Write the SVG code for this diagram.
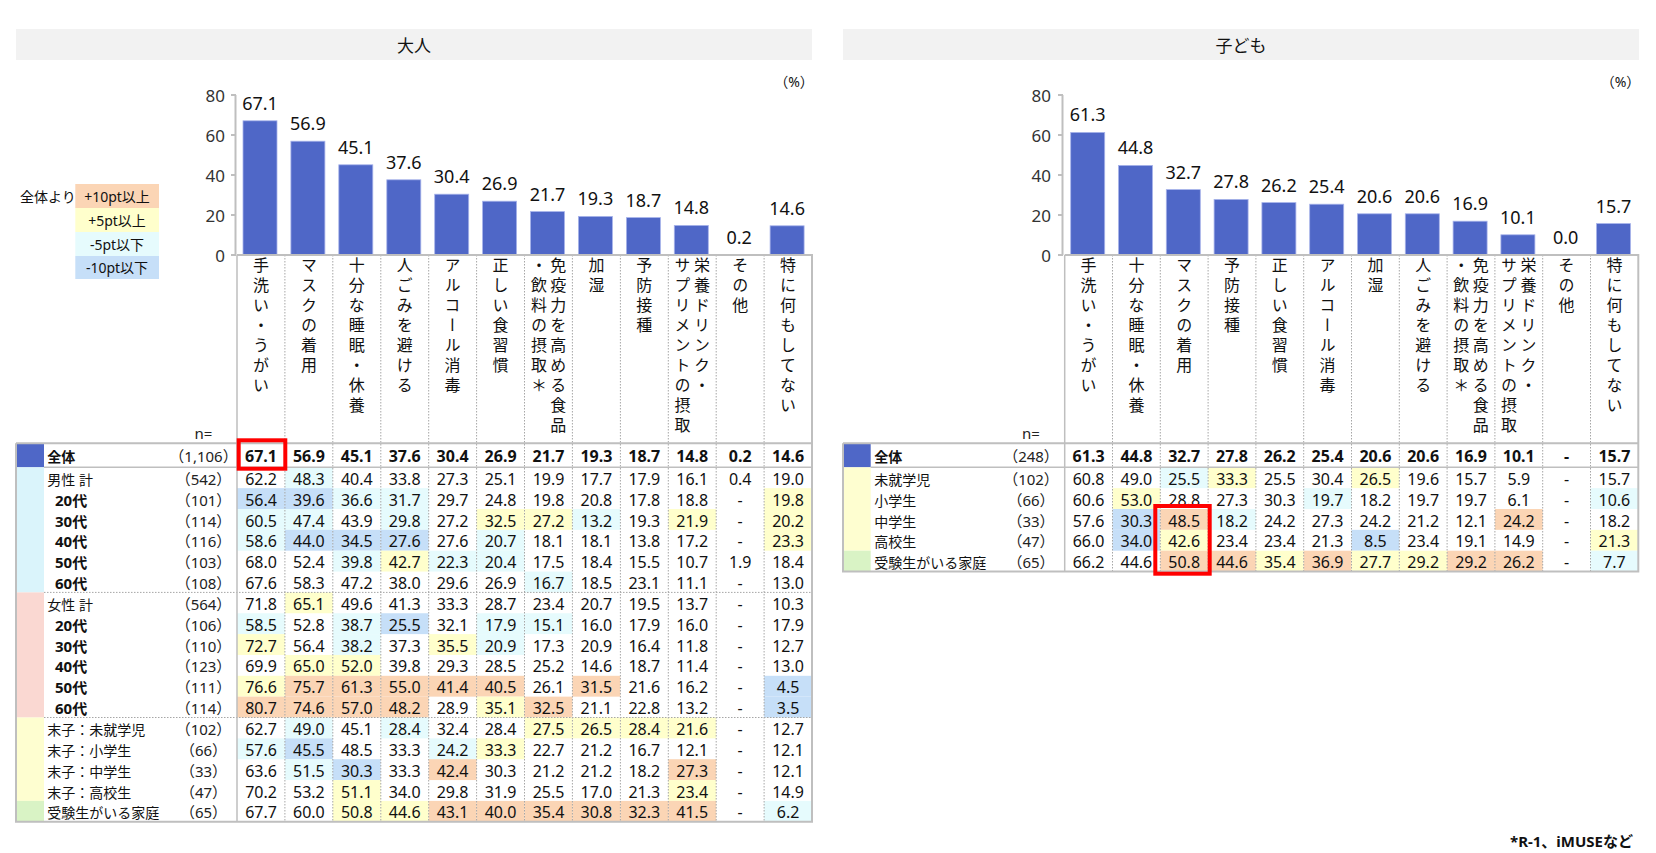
<svg xmlns="http://www.w3.org/2000/svg" width="1656" height="853" viewBox="0 0 1656 853">
<style>
text{font-family:"Noto Sans","Noto Sans CJK JP",sans-serif;fill:#111}
.ttl{font-size:17px;text-anchor:middle}
.v{font-size:16px;text-anchor:middle}
.b{font-weight:bold}
.lb{font-size:14px}
.ag{font-size:15px;font-weight:bold}
.n{font-size:15px;text-anchor:middle;fill:#222}
.bl{font-size:18px;text-anchor:middle}
.tk{font-size:17px;text-anchor:end;fill:#333}
.cat{font-family:"Noto Sans CJK JP",sans-serif;font-size:16px;writing-mode:vertical-rl;letter-spacing:4px}
.pc{font-size:14px;text-anchor:middle}
.O{fill:#fbd5b5}.Y{fill:#ffffcc}.C{fill:#e6fbfd}.B{fill:#c6dff8}
.bar{fill:#4f67c7;stroke:#a7b3ea;stroke-width:0.8}
.dot{stroke:#a6a6a6;stroke-width:1;stroke-dasharray:1.5 1.5;fill:none}
.sol{stroke:#bfbfbf;stroke-width:2;fill:none}
.sol1{stroke:#bfbfbf;stroke-width:1.5;fill:none}
.red{fill:none;stroke:#ff0000;stroke-width:4}
</style>
<rect width="1656" height="853" fill="#fff"/>

<g id="title-adult">
<rect x="16" y="29" width="796" height="31" fill="#f2f2f2"/>
<text class="ttl" x="414" y="52">大人</text>
</g>
<g id="title-child">
<rect x="843" y="29" width="796" height="31" fill="#f2f2f2"/>
<text class="ttl" x="1241" y="52">子ども</text>
</g>

<g id="legend">
<text class="lb" x="20" y="201.5">全体より</text>
<rect class="O" x="75.3" y="184" width="83.7" height="24"/>
<rect class="Y" x="75.3" y="208" width="83.7" height="24"/>
<rect class="C" x="75.3" y="232" width="83.7" height="24"/>
<rect class="B" x="75.3" y="256" width="83.7" height="23"/>
<text class="lb" x="117" y="201.5" text-anchor="middle">+10pt以上</text>
<text class="lb" x="117" y="225.5" text-anchor="middle">+5pt以上</text>
<text class="lb" x="117" y="249.5" text-anchor="middle">-5pt以下</text>
<text class="lb" x="117" y="273" text-anchor="middle">-10pt以下</text>
</g>

<g id="chart-adult">
<path class="sol" d="M235.5,95V255M231,95H236M231,135H236M231,175H236M231,215H236M231,255H236"/>
<text class="tk" x="225" y="101.5">80</text>
<text class="tk" x="225" y="141.5">60</text>
<text class="tk" x="225" y="181.5">40</text>
<text class="tk" x="225" y="221.5">20</text>
<text class="tk" x="225" y="261.5">0</text>
<text class="pc" x="794" y="86.5">（%）</text>
<rect class="bar" x="243" y="120.8" width="34" height="134.2"/>
<rect class="bar" x="290.9" y="141.2" width="34" height="113.8"/>
<rect class="bar" x="338.8" y="164.8" width="34" height="90.2"/>
<rect class="bar" x="386.8" y="179.8" width="34" height="75.2"/>
<rect class="bar" x="434.7" y="194.2" width="34" height="60.8"/>
<rect class="bar" x="482.6" y="201.2" width="34" height="53.8"/>
<rect class="bar" x="530.5" y="211.6" width="34" height="43.4"/>
<rect class="bar" x="578.4" y="216.4" width="34" height="38.6"/>
<rect class="bar" x="626.4" y="217.6" width="34" height="37.4"/>
<rect class="bar" x="674.3" y="225.4" width="34" height="29.6"/>
<rect class="bar" x="722.2" y="254.4" width="34" height="0.6"/>
<rect class="bar" x="770.1" y="225.8" width="34" height="29.2"/>
<text class="bl" y="0"><tspan x="260" y="109.8">67.1</tspan><tspan x="307.9" y="130.2">56.9</tspan><tspan x="355.8" y="153.8">45.1</tspan><tspan x="403.8" y="168.8">37.6</tspan><tspan x="451.7" y="183.2">30.4</tspan><tspan x="499.6" y="190.2">26.9</tspan><tspan x="547.5" y="200.6">21.7</tspan><tspan x="595.4" y="205.4">19.3</tspan><tspan x="643.4" y="206.6">18.7</tspan><tspan x="691.3" y="214.4">14.8</tspan><tspan x="739.2" y="243.6">0.2</tspan><tspan x="787.1" y="214.8">14.6</tspan></text>
<text class="cat" x="261" y="257">手洗い・うがい</text>
<text class="cat" x="308.9" y="257">マスクの着用</text>
<text class="cat" x="356.8" y="257">十分な睡眠・休養</text>
<text class="cat" x="404.7" y="257">人ごみを避ける</text>
<text class="cat" x="452.6" y="257">アルコール消毒</text>
<text class="cat" x="500.6" y="257">正しい食習慣</text>
<text class="cat" x="558.3" y="257">免疫力を高める食品</text>
<text class="cat" x="539" y="257">・飲料の摂取＊</text>
<text class="cat" x="596.4" y="257">加湿</text>
<text class="cat" x="644.3" y="257">予防接種</text>
<text class="cat" x="702" y="257">栄養ドリンク・</text>
<text class="cat" x="682.5" y="257">サプリメントの摂取</text>
<text class="cat" x="740.2" y="257">その他</text>
<text class="cat" x="788.1" y="257">特に何もしてない</text>
</g>

<g id="table-adult">
<rect x="16" y="443.3" width="28" height="24" fill="#4f67c7"/>
<rect x="16" y="467.3" width="28" height="125.1" fill="#daf4fb"/>
<rect x="16" y="592.4" width="28" height="125.1" fill="#fad8d2"/>
<rect x="16" y="717.5" width="28" height="83.4" fill="#fefed0"/>
<rect x="16" y="800.9" width="28" height="20.85" fill="#d9f3c5"/>
<g>
<rect class="C" x="284.9" y="467.3" width="47.9" height="20.85"/>
<rect class="B" x="237" y="488.15" width="47.9" height="20.85"/><rect class="B" x="284.9" y="488.15" width="47.9" height="20.85"/><rect class="C" x="332.8" y="488.15" width="47.9" height="20.85"/><rect class="C" x="380.8" y="488.15" width="47.9" height="20.85"/><rect class="Y" x="764.1" y="488.15" width="47.9" height="20.85"/>
<rect class="C" x="237" y="509" width="47.9" height="20.85"/><rect class="C" x="284.9" y="509" width="47.9" height="20.85"/><rect class="C" x="380.8" y="509" width="47.9" height="20.85"/><rect class="Y" x="476.6" y="509" width="47.9" height="20.85"/><rect class="Y" x="524.5" y="509" width="47.9" height="20.85"/><rect class="C" x="572.4" y="509" width="47.9" height="20.85"/><rect class="Y" x="668.3" y="509" width="47.9" height="20.85"/><rect class="Y" x="764.1" y="509" width="47.9" height="20.85"/>
<rect class="C" x="237" y="529.85" width="47.9" height="20.85"/><rect class="B" x="284.9" y="529.85" width="47.9" height="20.85"/><rect class="B" x="332.8" y="529.85" width="47.9" height="20.85"/><rect class="B" x="380.8" y="529.85" width="47.9" height="20.85"/><rect class="C" x="476.6" y="529.85" width="47.9" height="20.85"/><rect class="Y" x="764.1" y="529.85" width="47.9" height="20.85"/>
<rect class="C" x="332.8" y="550.7" width="47.9" height="20.85"/><rect class="Y" x="380.8" y="550.7" width="47.9" height="20.85"/><rect class="C" x="428.7" y="550.7" width="47.9" height="20.85"/><rect class="C" x="476.6" y="550.7" width="47.9" height="20.85"/>
<rect class="C" x="524.5" y="571.55" width="47.9" height="20.85"/>
<rect class="Y" x="284.9" y="592.4" width="47.9" height="20.85"/>
<rect class="C" x="237" y="613.25" width="47.9" height="20.85"/><rect class="C" x="332.8" y="613.25" width="47.9" height="20.85"/><rect class="B" x="380.8" y="613.25" width="47.9" height="20.85"/><rect class="C" x="476.6" y="613.25" width="47.9" height="20.85"/><rect class="C" x="524.5" y="613.25" width="47.9" height="20.85"/>
<rect class="Y" x="237" y="634.1" width="47.9" height="20.85"/><rect class="C" x="332.8" y="634.1" width="47.9" height="20.85"/><rect class="Y" x="428.7" y="634.1" width="47.9" height="20.85"/><rect class="C" x="476.6" y="634.1" width="47.9" height="20.85"/>
<rect class="Y" x="284.9" y="654.95" width="47.9" height="20.85"/><rect class="Y" x="332.8" y="654.95" width="47.9" height="20.85"/>
<rect class="Y" x="237" y="675.8" width="47.9" height="20.85"/><rect class="O" x="284.9" y="675.8" width="47.9" height="20.85"/><rect class="O" x="332.8" y="675.8" width="47.9" height="20.85"/><rect class="O" x="380.8" y="675.8" width="47.9" height="20.85"/><rect class="O" x="428.7" y="675.8" width="47.9" height="20.85"/><rect class="O" x="476.6" y="675.8" width="47.9" height="20.85"/><rect class="O" x="572.4" y="675.8" width="47.9" height="20.85"/><rect class="B" x="764.1" y="675.8" width="47.9" height="20.85"/>
<rect class="O" x="237" y="696.65" width="47.9" height="20.85"/><rect class="O" x="284.9" y="696.65" width="47.9" height="20.85"/><rect class="O" x="332.8" y="696.65" width="47.9" height="20.85"/><rect class="O" x="380.8" y="696.65" width="47.9" height="20.85"/><rect class="Y" x="476.6" y="696.65" width="47.9" height="20.85"/><rect class="O" x="524.5" y="696.65" width="47.9" height="20.85"/><rect class="B" x="764.1" y="696.65" width="47.9" height="20.85"/>
<rect class="C" x="284.9" y="717.5" width="47.9" height="20.85"/><rect class="C" x="380.8" y="717.5" width="47.9" height="20.85"/><rect class="Y" x="524.5" y="717.5" width="47.9" height="20.85"/><rect class="Y" x="572.4" y="717.5" width="47.9" height="20.85"/><rect class="Y" x="620.4" y="717.5" width="47.9" height="20.85"/><rect class="Y" x="668.3" y="717.5" width="47.9" height="20.85"/>
<rect class="C" x="237" y="738.35" width="47.9" height="20.85"/><rect class="B" x="284.9" y="738.35" width="47.9" height="20.85"/><rect class="C" x="428.7" y="738.35" width="47.9" height="20.85"/><rect class="Y" x="476.6" y="738.35" width="47.9" height="20.85"/>
<rect class="C" x="284.9" y="759.2" width="47.9" height="20.85"/><rect class="B" x="332.8" y="759.2" width="47.9" height="20.85"/><rect class="O" x="428.7" y="759.2" width="47.9" height="20.85"/><rect class="O" x="668.3" y="759.2" width="47.9" height="20.85"/>
<rect class="Y" x="332.8" y="780.05" width="47.9" height="20.85"/><rect class="Y" x="668.3" y="780.05" width="47.9" height="20.85"/>
<rect class="Y" x="332.8" y="800.9" width="47.9" height="20.85"/><rect class="Y" x="380.8" y="800.9" width="47.9" height="20.85"/><rect class="O" x="428.7" y="800.9" width="47.9" height="20.85"/><rect class="O" x="476.6" y="800.9" width="47.9" height="20.85"/><rect class="O" x="524.5" y="800.9" width="47.9" height="20.85"/><rect class="O" x="572.4" y="800.9" width="47.9" height="20.85"/><rect class="O" x="620.4" y="800.9" width="47.9" height="20.85"/><rect class="O" x="668.3" y="800.9" width="47.9" height="20.85"/><rect class="C" x="764.1" y="800.9" width="47.9" height="20.85"/>
</g>
<path class="dot" d="M284.9,255V821.75M332.8,255V821.75M380.8,255V821.75M428.7,255V821.75M476.6,255V821.75M524.5,255V821.75M572.4,255V821.75M620.4,255V821.75M668.3,255V821.75M716.2,255V821.75M764.1,255V821.75M44,592.4H812M44,717.5H812"/>
<path class="sol1" d="M237,255V821.75M44,467.3H812"/>
<path class="sol" d="M16,443.3V821.75H812V255H237M16,443.3H812"/>
<text class="n" x="203.5" y="438.5">n=</text>
<text class="lb b" x="47.3" y="461.7">全体</text>
<text class="n" x="203.5" y="461.7">（1,106）</text>
<text class="v b" y="461.7"><tspan x="261">67.1</tspan><tspan x="308.9">56.9</tspan><tspan x="356.8">45.1</tspan><tspan x="404.7">37.6</tspan><tspan x="452.6">30.4</tspan><tspan x="500.6">26.9</tspan><tspan x="548.5">21.7</tspan><tspan x="596.4">19.3</tspan><tspan x="644.3">18.7</tspan><tspan x="692.2">14.8</tspan><tspan x="740.2">0.2</tspan><tspan x="788.1">14.6</tspan></text>

<text class="lb" x="47.3" y="484.8">男性 計</text><text class="n" x="203.5" y="484.8">（542）</text>
<text class="ag" x="55" y="505.65">20代</text><text class="n" x="203.5" y="505.65">（101）</text>
<text class="ag" x="55" y="526.5">30代</text><text class="n" x="203.5" y="526.5">（114）</text>
<text class="ag" x="55" y="547.35">40代</text><text class="n" x="203.5" y="547.35">（116）</text>
<text class="ag" x="55" y="568.2">50代</text><text class="n" x="203.5" y="568.2">（103）</text>
<text class="ag" x="55" y="589.05">60代</text><text class="n" x="203.5" y="589.05">（108）</text>
<text class="lb" x="47.3" y="609.9">女性 計</text><text class="n" x="203.5" y="609.9">（564）</text>
<text class="ag" x="55" y="630.75">20代</text><text class="n" x="203.5" y="630.75">（106）</text>
<text class="ag" x="55" y="651.6">30代</text><text class="n" x="203.5" y="651.6">（110）</text>
<text class="ag" x="55" y="672.45">40代</text><text class="n" x="203.5" y="672.45">（123）</text>
<text class="ag" x="55" y="693.3">50代</text><text class="n" x="203.5" y="693.3">（111）</text>
<text class="ag" x="55" y="714.15">60代</text><text class="n" x="203.5" y="714.15">（114）</text>
<text class="lb" x="47.3" y="735">末子：未就学児</text><text class="n" x="203.5" y="735">（102）</text>
<text class="lb" x="47.3" y="755.85">末子：小学生</text><text class="n" x="203.5" y="755.85">（66）</text>
<text class="lb" x="47.3" y="776.7">末子：中学生</text><text class="n" x="203.5" y="776.7">（33）</text>
<text class="lb" x="47.3" y="797.55">末子：高校生</text><text class="n" x="203.5" y="797.55">（47）</text>
<text class="lb" x="47.3" y="818.4">受験生がいる家庭</text><text class="n" x="203.5" y="818.4">（65）</text>

<text class="v" y="484.8"><tspan x="261">62.2</tspan><tspan x="308.9">48.3</tspan><tspan x="356.8">40.4</tspan><tspan x="404.7">33.8</tspan><tspan x="452.6">27.3</tspan><tspan x="500.6">25.1</tspan><tspan x="548.5">19.9</tspan><tspan x="596.4">17.7</tspan><tspan x="644.3">17.9</tspan><tspan x="692.2">16.1</tspan><tspan x="740.2">0.4</tspan><tspan x="788.1">19.0</tspan></text>
<text class="v" y="505.65"><tspan x="261">56.4</tspan><tspan x="308.9">39.6</tspan><tspan x="356.8">36.6</tspan><tspan x="404.7">31.7</tspan><tspan x="452.6">29.7</tspan><tspan x="500.6">24.8</tspan><tspan x="548.5">19.8</tspan><tspan x="596.4">20.8</tspan><tspan x="644.3">17.8</tspan><tspan x="692.2">18.8</tspan><tspan x="740.2">-</tspan><tspan x="788.1">19.8</tspan></text>
<text class="v" y="526.5"><tspan x="261">60.5</tspan><tspan x="308.9">47.4</tspan><tspan x="356.8">43.9</tspan><tspan x="404.7">29.8</tspan><tspan x="452.6">27.2</tspan><tspan x="500.6">32.5</tspan><tspan x="548.5">27.2</tspan><tspan x="596.4">13.2</tspan><tspan x="644.3">19.3</tspan><tspan x="692.2">21.9</tspan><tspan x="740.2">-</tspan><tspan x="788.1">20.2</tspan></text>
<text class="v" y="547.35"><tspan x="261">58.6</tspan><tspan x="308.9">44.0</tspan><tspan x="356.8">34.5</tspan><tspan x="404.7">27.6</tspan><tspan x="452.6">27.6</tspan><tspan x="500.6">20.7</tspan><tspan x="548.5">18.1</tspan><tspan x="596.4">18.1</tspan><tspan x="644.3">13.8</tspan><tspan x="692.2">17.2</tspan><tspan x="740.2">-</tspan><tspan x="788.1">23.3</tspan></text>
<text class="v" y="568.2"><tspan x="261">68.0</tspan><tspan x="308.9">52.4</tspan><tspan x="356.8">39.8</tspan><tspan x="404.7">42.7</tspan><tspan x="452.6">22.3</tspan><tspan x="500.6">20.4</tspan><tspan x="548.5">17.5</tspan><tspan x="596.4">18.4</tspan><tspan x="644.3">15.5</tspan><tspan x="692.2">10.7</tspan><tspan x="740.2">1.9</tspan><tspan x="788.1">18.4</tspan></text>
<text class="v" y="589.05"><tspan x="261">67.6</tspan><tspan x="308.9">58.3</tspan><tspan x="356.8">47.2</tspan><tspan x="404.7">38.0</tspan><tspan x="452.6">29.6</tspan><tspan x="500.6">26.9</tspan><tspan x="548.5">16.7</tspan><tspan x="596.4">18.5</tspan><tspan x="644.3">23.1</tspan><tspan x="692.2">11.1</tspan><tspan x="740.2">-</tspan><tspan x="788.1">13.0</tspan></text>
<text class="v" y="609.9"><tspan x="261">71.8</tspan><tspan x="308.9">65.1</tspan><tspan x="356.8">49.6</tspan><tspan x="404.7">41.3</tspan><tspan x="452.6">33.3</tspan><tspan x="500.6">28.7</tspan><tspan x="548.5">23.4</tspan><tspan x="596.4">20.7</tspan><tspan x="644.3">19.5</tspan><tspan x="692.2">13.7</tspan><tspan x="740.2">-</tspan><tspan x="788.1">10.3</tspan></text>
<text class="v" y="630.75"><tspan x="261">58.5</tspan><tspan x="308.9">52.8</tspan><tspan x="356.8">38.7</tspan><tspan x="404.7">25.5</tspan><tspan x="452.6">32.1</tspan><tspan x="500.6">17.9</tspan><tspan x="548.5">15.1</tspan><tspan x="596.4">16.0</tspan><tspan x="644.3">17.9</tspan><tspan x="692.2">16.0</tspan><tspan x="740.2">-</tspan><tspan x="788.1">17.9</tspan></text>
<text class="v" y="651.6"><tspan x="261">72.7</tspan><tspan x="308.9">56.4</tspan><tspan x="356.8">38.2</tspan><tspan x="404.7">37.3</tspan><tspan x="452.6">35.5</tspan><tspan x="500.6">20.9</tspan><tspan x="548.5">17.3</tspan><tspan x="596.4">20.9</tspan><tspan x="644.3">16.4</tspan><tspan x="692.2">11.8</tspan><tspan x="740.2">-</tspan><tspan x="788.1">12.7</tspan></text>
<text class="v" y="672.45"><tspan x="261">69.9</tspan><tspan x="308.9">65.0</tspan><tspan x="356.8">52.0</tspan><tspan x="404.7">39.8</tspan><tspan x="452.6">29.3</tspan><tspan x="500.6">28.5</tspan><tspan x="548.5">25.2</tspan><tspan x="596.4">14.6</tspan><tspan x="644.3">18.7</tspan><tspan x="692.2">11.4</tspan><tspan x="740.2">-</tspan><tspan x="788.1">13.0</tspan></text>
<text class="v" y="693.3"><tspan x="261">76.6</tspan><tspan x="308.9">75.7</tspan><tspan x="356.8">61.3</tspan><tspan x="404.7">55.0</tspan><tspan x="452.6">41.4</tspan><tspan x="500.6">40.5</tspan><tspan x="548.5">26.1</tspan><tspan x="596.4">31.5</tspan><tspan x="644.3">21.6</tspan><tspan x="692.2">16.2</tspan><tspan x="740.2">-</tspan><tspan x="788.1">4.5</tspan></text>
<text class="v" y="714.15"><tspan x="261">80.7</tspan><tspan x="308.9">74.6</tspan><tspan x="356.8">57.0</tspan><tspan x="404.7">48.2</tspan><tspan x="452.6">28.9</tspan><tspan x="500.6">35.1</tspan><tspan x="548.5">32.5</tspan><tspan x="596.4">21.1</tspan><tspan x="644.3">22.8</tspan><tspan x="692.2">13.2</tspan><tspan x="740.2">-</tspan><tspan x="788.1">3.5</tspan></text>
<text class="v" y="735"><tspan x="261">62.7</tspan><tspan x="308.9">49.0</tspan><tspan x="356.8">45.1</tspan><tspan x="404.7">28.4</tspan><tspan x="452.6">32.4</tspan><tspan x="500.6">28.4</tspan><tspan x="548.5">27.5</tspan><tspan x="596.4">26.5</tspan><tspan x="644.3">28.4</tspan><tspan x="692.2">21.6</tspan><tspan x="740.2">-</tspan><tspan x="788.1">12.7</tspan></text>
<text class="v" y="755.85"><tspan x="261">57.6</tspan><tspan x="308.9">45.5</tspan><tspan x="356.8">48.5</tspan><tspan x="404.7">33.3</tspan><tspan x="452.6">24.2</tspan><tspan x="500.6">33.3</tspan><tspan x="548.5">22.7</tspan><tspan x="596.4">21.2</tspan><tspan x="644.3">16.7</tspan><tspan x="692.2">12.1</tspan><tspan x="740.2">-</tspan><tspan x="788.1">12.1</tspan></text>
<text class="v" y="776.7"><tspan x="261">63.6</tspan><tspan x="308.9">51.5</tspan><tspan x="356.8">30.3</tspan><tspan x="404.7">33.3</tspan><tspan x="452.6">42.4</tspan><tspan x="500.6">30.3</tspan><tspan x="548.5">21.2</tspan><tspan x="596.4">21.2</tspan><tspan x="644.3">18.2</tspan><tspan x="692.2">27.3</tspan><tspan x="740.2">-</tspan><tspan x="788.1">12.1</tspan></text>
<text class="v" y="797.55"><tspan x="261">70.2</tspan><tspan x="308.9">53.2</tspan><tspan x="356.8">51.1</tspan><tspan x="404.7">34.0</tspan><tspan x="452.6">29.8</tspan><tspan x="500.6">31.9</tspan><tspan x="548.5">25.5</tspan><tspan x="596.4">17.0</tspan><tspan x="644.3">21.3</tspan><tspan x="692.2">23.4</tspan><tspan x="740.2">-</tspan><tspan x="788.1">14.9</tspan></text>
<text class="v" y="818.4"><tspan x="261">67.7</tspan><tspan x="308.9">60.0</tspan><tspan x="356.8">50.8</tspan><tspan x="404.7">44.6</tspan><tspan x="452.6">43.1</tspan><tspan x="500.6">40.0</tspan><tspan x="548.5">35.4</tspan><tspan x="596.4">30.8</tspan><tspan x="644.3">32.3</tspan><tspan x="692.2">41.5</tspan><tspan x="740.2">-</tspan><tspan x="788.1">6.2</tspan></text>
<rect id="highlight-adult" class="red" x="238.7" y="440.3" width="46.6" height="28.4"/>
</g>

<g id="chart-child">
<path class="sol" d="M1062.5,95V255M1058,95H1063M1058,135H1063M1058,175H1063M1058,215H1063M1058,255H1063"/>
<text class="tk" x="1051" y="101.5">80</text>
<text class="tk" x="1051" y="141.5">60</text>
<text class="tk" x="1051" y="181.5">40</text>
<text class="tk" x="1051" y="221.5">20</text>
<text class="tk" x="1051" y="261.5">0</text>
<text class="pc" x="1620.5" y="86.5">（%）</text>
<rect class="bar" x="1070.7" y="132.4" width="34" height="122.6"/>
<rect class="bar" x="1118.5" y="165.4" width="34" height="89.6"/>
<rect class="bar" x="1166.3" y="189.6" width="34" height="65.4"/>
<rect class="bar" x="1214.1" y="199.4" width="34" height="55.6"/>
<rect class="bar" x="1261.9" y="202.6" width="34" height="52.4"/>
<rect class="bar" x="1309.7" y="204.2" width="34" height="50.8"/>
<rect class="bar" x="1357.5" y="213.8" width="34" height="41.2"/>
<rect class="bar" x="1405.3" y="213.8" width="34" height="41.2"/>
<rect class="bar" x="1453.1" y="221.2" width="34" height="33.8"/>
<rect class="bar" x="1500.9" y="234.8" width="34" height="20.2"/>
<rect class="bar" x="1596.5" y="223.6" width="34" height="31.4"/>
<text class="bl" y="0"><tspan x="1087.7" y="121.4">61.3</tspan><tspan x="1135.5" y="154.4">44.8</tspan><tspan x="1183.3" y="178.6">32.7</tspan><tspan x="1231.1" y="188.4">27.8</tspan><tspan x="1278.9" y="191.6">26.2</tspan><tspan x="1326.7" y="193.2">25.4</tspan><tspan x="1374.5" y="202.8">20.6</tspan><tspan x="1422.3" y="202.8">20.6</tspan><tspan x="1470.1" y="210.2">16.9</tspan><tspan x="1517.9" y="223.8">10.1</tspan><tspan x="1565.7" y="244">0.0</tspan><tspan x="1613.5" y="212.6">15.7</tspan></text>
<text class="cat" x="1088.6" y="257">手洗い・うがい</text>
<text class="cat" x="1136.4" y="257">十分な睡眠・休養</text>
<text class="cat" x="1184.2" y="257">マスクの着用</text>
<text class="cat" x="1232" y="257">予防接種</text>
<text class="cat" x="1279.8" y="257">正しい食習慣</text>
<text class="cat" x="1327.6" y="257">アルコール消毒</text>
<text class="cat" x="1375.4" y="257">加湿</text>
<text class="cat" x="1423.2" y="257">人ごみを避ける</text>
<text class="cat" x="1480.8" y="257">免疫力を高める食品</text>
<text class="cat" x="1461.3" y="257">・飲料の摂取＊</text>
<text class="cat" x="1528.6" y="257">栄養ドリンク・</text>
<text class="cat" x="1509" y="257">サプリメントの摂取</text>
<text class="cat" x="1566.6" y="257">その他</text>
<text class="cat" x="1614.4" y="257">特に何もしてない</text>
</g>

<g id="table-child">
<rect x="843" y="443.3" width="27.7" height="24" fill="#4f67c7"/>
<rect x="843" y="467.3" width="27.7" height="83.4" fill="#fefed0"/>
<rect x="843" y="550.7" width="27.7" height="20.85" fill="#d9f3c5"/>
<g>
<rect class="C" x="1160.3" y="467.3" width="47.8" height="20.85"/><rect class="Y" x="1208.1" y="467.3" width="47.8" height="20.85"/><rect class="Y" x="1351.5" y="467.3" width="47.8" height="20.85"/>
<rect class="Y" x="1112.5" y="488.15" width="47.8" height="20.85"/><rect class="C" x="1303.7" y="488.15" width="47.8" height="20.85"/><rect class="C" x="1590.5" y="488.15" width="47.8" height="20.85"/>
<rect class="B" x="1112.5" y="509" width="47.8" height="20.85"/><rect class="O" x="1160.3" y="509" width="47.8" height="20.85"/><rect class="C" x="1208.1" y="509" width="47.8" height="20.85"/><rect class="O" x="1494.9" y="509" width="47.8" height="20.85"/>
<rect class="B" x="1112.5" y="529.85" width="47.8" height="20.85"/><rect class="Y" x="1160.3" y="529.85" width="47.8" height="20.85"/><rect class="B" x="1351.5" y="529.85" width="47.8" height="20.85"/><rect class="Y" x="1590.5" y="529.85" width="47.8" height="20.85"/>
<rect class="O" x="1160.3" y="550.7" width="47.8" height="20.85"/><rect class="O" x="1208.1" y="550.7" width="47.8" height="20.85"/><rect class="Y" x="1255.9" y="550.7" width="47.8" height="20.85"/><rect class="O" x="1303.7" y="550.7" width="47.8" height="20.85"/><rect class="Y" x="1351.5" y="550.7" width="47.8" height="20.85"/><rect class="Y" x="1399.3" y="550.7" width="47.8" height="20.85"/><rect class="O" x="1447.1" y="550.7" width="47.8" height="20.85"/><rect class="O" x="1494.9" y="550.7" width="47.8" height="20.85"/><rect class="C" x="1590.5" y="550.7" width="47.8" height="20.85"/>
</g>
<path class="dot" d="M1112.5,255V571.6M1160.3,255V571.6M1208.1,255V571.6M1255.9,255V571.6M1303.7,255V571.6M1351.5,255V571.6M1399.3,255V571.6M1447.1,255V571.6M1494.9,255V571.6M1542.7,255V571.6M1590.5,255V571.6"/>
<path class="sol1" d="M1064.7,255V571.6M870.7,467.3H1638.3"/>
<path class="sol" d="M843,443.3V571.6H1638.3V255H1064.7M843,443.3H1638.3"/>
<text class="n" x="1031" y="438.5">n=</text>
<text class="lb b" x="874.3" y="461.7">全体</text>
<text class="n" x="1031" y="461.7">（248）</text>
<text class="v b" y="461.7"><tspan x="1088.6">61.3</tspan><tspan x="1136.4">44.8</tspan><tspan x="1184.2">32.7</tspan><tspan x="1232">27.8</tspan><tspan x="1279.8">26.2</tspan><tspan x="1327.6">25.4</tspan><tspan x="1375.4">20.6</tspan><tspan x="1423.2">20.6</tspan><tspan x="1471">16.9</tspan><tspan x="1518.8">10.1</tspan><tspan x="1566.6">-</tspan><tspan x="1614.4">15.7</tspan></text>
<text class="lb" x="874.3" y="484.8">未就学児</text><text class="n" x="1031" y="484.8">（102）</text>
<text class="lb" x="874.3" y="505.65">小学生</text><text class="n" x="1031" y="505.65">（66）</text>
<text class="lb" x="874.3" y="526.5">中学生</text><text class="n" x="1031" y="526.5">（33）</text>
<text class="lb" x="874.3" y="547.35">高校生</text><text class="n" x="1031" y="547.35">（47）</text>
<text class="lb" x="874.3" y="568.2">受験生がいる家庭</text><text class="n" x="1031" y="568.2">（65）</text>
<text class="v" y="484.8"><tspan x="1088.6">60.8</tspan><tspan x="1136.4">49.0</tspan><tspan x="1184.2">25.5</tspan><tspan x="1232">33.3</tspan><tspan x="1279.8">25.5</tspan><tspan x="1327.6">30.4</tspan><tspan x="1375.4">26.5</tspan><tspan x="1423.2">19.6</tspan><tspan x="1471">15.7</tspan><tspan x="1518.8">5.9</tspan><tspan x="1566.6">-</tspan><tspan x="1614.4">15.7</tspan></text>
<text class="v" y="505.65"><tspan x="1088.6">60.6</tspan><tspan x="1136.4">53.0</tspan><tspan x="1184.2">28.8</tspan><tspan x="1232">27.3</tspan><tspan x="1279.8">30.3</tspan><tspan x="1327.6">19.7</tspan><tspan x="1375.4">18.2</tspan><tspan x="1423.2">19.7</tspan><tspan x="1471">19.7</tspan><tspan x="1518.8">6.1</tspan><tspan x="1566.6">-</tspan><tspan x="1614.4">10.6</tspan></text>
<text class="v" y="526.5"><tspan x="1088.6">57.6</tspan><tspan x="1136.4">30.3</tspan><tspan x="1184.2">48.5</tspan><tspan x="1232">18.2</tspan><tspan x="1279.8">24.2</tspan><tspan x="1327.6">27.3</tspan><tspan x="1375.4">24.2</tspan><tspan x="1423.2">21.2</tspan><tspan x="1471">12.1</tspan><tspan x="1518.8">24.2</tspan><tspan x="1566.6">-</tspan><tspan x="1614.4">18.2</tspan></text>
<text class="v" y="547.35"><tspan x="1088.6">66.0</tspan><tspan x="1136.4">34.0</tspan><tspan x="1184.2">42.6</tspan><tspan x="1232">23.4</tspan><tspan x="1279.8">23.4</tspan><tspan x="1327.6">21.3</tspan><tspan x="1375.4">8.5</tspan><tspan x="1423.2">23.4</tspan><tspan x="1471">19.1</tspan><tspan x="1518.8">14.9</tspan><tspan x="1566.6">-</tspan><tspan x="1614.4">21.3</tspan></text>
<text class="v" y="568.2"><tspan x="1088.6">66.2</tspan><tspan x="1136.4">44.6</tspan><tspan x="1184.2">50.8</tspan><tspan x="1232">44.6</tspan><tspan x="1279.8">35.4</tspan><tspan x="1327.6">36.9</tspan><tspan x="1375.4">27.7</tspan><tspan x="1423.2">29.2</tspan><tspan x="1471">29.2</tspan><tspan x="1518.8">26.2</tspan><tspan x="1566.6">-</tspan><tspan x="1614.4">7.7</tspan></text>
<rect id="highlight-child" class="red" x="1155.3" y="506" width="54.4" height="67.7"/>
</g>

<g id="footnote">
<text x="1633" y="847" font-size="15" font-weight="bold" text-anchor="end">*R-1、iMUSEなど</text>
</g>
</svg>
